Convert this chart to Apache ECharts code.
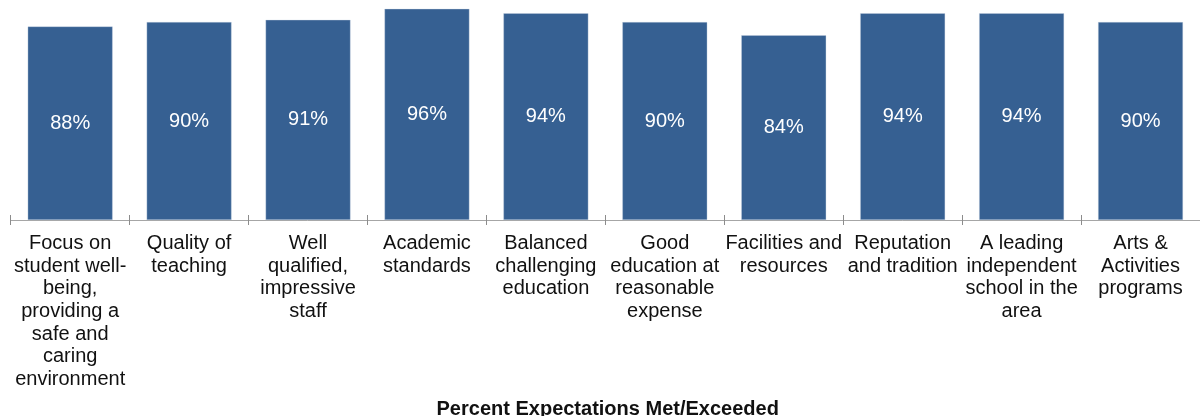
<!DOCTYPE html>
<html>
<head>
<meta charset="utf-8">
<script src="https://cdn.jsdelivr.net/npm/echarts@6/dist/echarts.min.js"></script>
<style>
html,body{margin:0;padding:0;background:#fff;}
#chart{width:1200px;height:416px;}
</style>
</head>
<body>
<div id="chart"></div>
<script>
const categories = [
  "Focus on\nstudent well-\nbeing,\nproviding a\nsafe and\ncaring\nenvironment",
  "Quality of\nteaching",
  "Well\nqualified,\nimpressive\nstaff",
  "Academic\nstandards",
  "Balanced\nchallenging\neducation",
  "Good\neducation at\nreasonable\nexpense",
  "Facilities and\nresources",
  "Reputation\nand tradition",
  "A leading\nindependent\nschool in the\narea",
  "Arts &\nActivities\nprograms"
];
const values = [88, 90, 91, 96, 94, 90, 84, 94, 94, 90];
const axisTitle = "Percent Expectations Met/Exceeded";

const chart = echarts.init(document.getElementById('chart'), null, {renderer: 'canvas'});
const FONT = '"Liberation Sans", Arial, sans-serif';
chart.setOption({
  animation: false,
  grid: {left: 10.7, right: -3.4, top: 0, bottom: 196, containLabel: false},
  xAxis: [{
    type: 'category',
    data: categories,
    position: 'bottom',
    axisLine: {show: true, lineStyle: {color: '#a6a6a6', width: 1}},
    axisTick: {show: true, length: 5, lineStyle: {color: '#8c8c8c'}},
    axisLabel: {
      interval: 0,
      color: '#111',
      fontFamily: FONT,
      fontSize: 20,
      lineHeight: 22.7,
      margin: 12,
      align: 'center'
    }
  }, {
    type: 'category',
    data: categories,
    position: 'bottom',
    axisLine: {show: false},
    axisTick: {show: true, inside: true, length: 5, lineStyle: {color: '#8c8c8c'}},
    axisLabel: {show: false}
  }],
  yAxis: {type: 'value', min: 0, max: 100, show: false, splitLine: {show: false}},
  graphic: [{
    type: 'text',
    x: 607.7,
    y: 409,
    style: {
      text: axisTitle,
      font: 'bold 20px ' + FONT,
      fill: '#111',
      textAlign: 'center',
      textVerticalAlign: 'middle'
    }
  }],
  series: [{
    type: 'bar',
    data: values,
    barCategoryGap: '28.5%',
    itemStyle: {color: '#366092', borderColor: 'rgba(200,210,225,0.6)', borderWidth: 0.6},
    label: {
      show: true,
      position: 'inside',
      formatter: '{c}%',
      color: '#fff',
      fontFamily: FONT,
      fontSize: 20
    }
  }]
});
</script>
</body>
</html>
